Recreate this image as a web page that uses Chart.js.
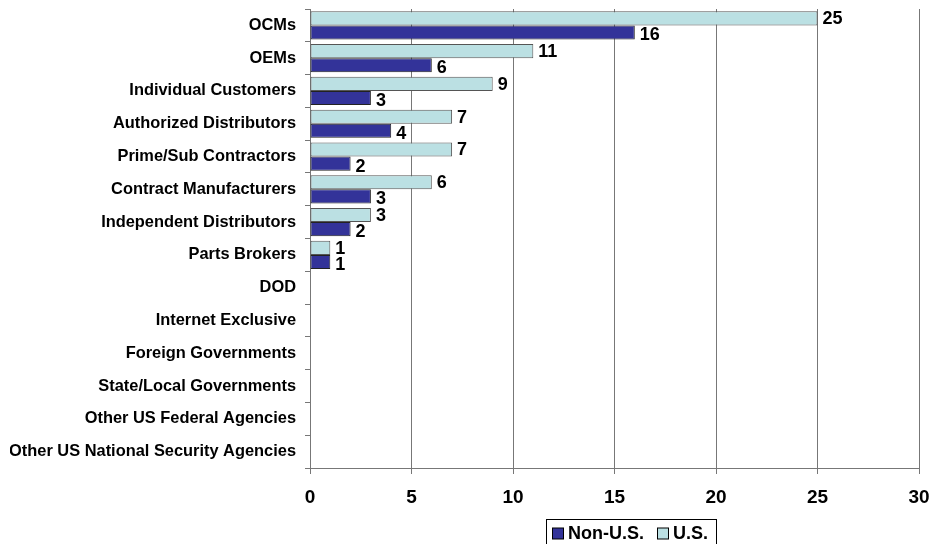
<!DOCTYPE html>
<html>
<head>
<meta charset="utf-8">
<script src="https://cdn.jsdelivr.net/npm/chart.js@4.4.1/dist/chart.umd.min.js"></script>
<style>
  html, body { margin: 0; padding: 0; background: #fff; }
  #wrap { width: 935px; height: 544px; }
</style>
</head>
<body>
<div id="wrap"><canvas id="myChart"></canvas></div>
<script>
const categories = [
  "OCMs",
  "OEMs",
  "Individual Customers",
  "Authorized Distributors",
  "Prime/Sub Contractors",
  "Contract Manufacturers",
  "Independent Distributors",
  "Parts Brokers",
  "DOD",
  "Internet Exclusive",
  "Foreign Governments",
  "State/Local Governments",
  "Other US Federal Agencies",
  "Other US National Security Agencies",
];
const usValues = [25, 11, 9, 7, 7, 6, 3, 1, null, null, null, null, null, null];
const nonUsValues = [16, 6, 3, 4, 2, 3, 2, 1, null, null, null, null, null, null];
const xTicks = [0, 5, 10, 15, 20, 25, 30];

const FONT = "'Liberation Sans', Arial, sans-serif";

// value labels at the end of each bar
const barLabels = {
  id: "barLabels",
  afterDatasetsDraw(chart) {
    const c = chart.ctx;
    c.save();
    c.font = "bold 18px " + FONT;
    c.fillStyle = "#000";
    c.textBaseline = "middle";
    c.textAlign = "left";
    chart.data.datasets.forEach((ds, i) => {
      const meta = chart.getDatasetMeta(i);
      meta.data.forEach((bar, j) => {
        const v = ds.data[j];
        if (!v) return;
        const dy = ds.label === "Non-U.S." ? 3 : 1;
        c.fillText(String(v), bar.x + 5, bar.y + dy);
      });
    });
    c.restore();
  },
};

// boxed legend below the axis
const boxLegend = {
  id: "boxLegend",
  afterDraw(chart) {
    const c = chart.ctx;
    const items = chart.data.datasets.slice().reverse();
    const spots = [552, 657];
    c.save();
    c.font = "bold 18px " + FONT;
    c.textBaseline = "middle";
    c.lineWidth = 1;
    c.strokeStyle = "#000";
    c.strokeRect(546.5, 519.5, 170, 34);
    const y = 533.5;
    const sq = 11;
    items.forEach((ds, k) => {
      const x = spots[k];
      c.fillStyle = ds.backgroundColor;
      c.fillRect(x + 0.5, y - sq / 2, sq, sq);
      c.strokeStyle = "#000";
      c.strokeRect(x + 0.5, y - sq / 2, sq, sq);
      c.fillStyle = "#000";
      c.fillText(ds.label, x + sq + 5, y + 1);
    });
    c.restore();
  },
};

const ctx = document.getElementById("myChart");
const chart = new Chart(ctx, {
  type: "bar",
  data: {
    labels: categories,
    datasets: [
      {
        label: "U.S.",
        data: usValues,
        backgroundColor: "#BBE0E3",
        borderColor: "#555555",
        borderWidth: 1,
        borderSkipped: false,
      },
      {
        label: "Non-U.S.",
        data: nonUsValues,
        backgroundColor: "#333399",
        borderColor: "#222222",
        borderWidth: 1,
        borderSkipped: false,
      },
    ],
  },
  options: {
    indexAxis: "y",
    responsive: true,
    maintainAspectRatio: false,
    animation: false,
    datasets: {
      bar: { categoryPercentage: 0.86, barPercentage: 1 },
    },
    layout: { padding: { top: 9, right: 16, bottom: 0, left: 10 } },
    plugins: {
      legend: { display: false },
      tooltip: { enabled: false },
    },
    scales: {
      x: {
        min: 0,
        max: 30,
        afterBuildTicks(scale) {
          scale.ticks = xTicks.map((v) => ({ value: v }));
        },
        afterFit(scale) {
          scale.height = 76;
          scale.paddingLeft = 0;
          scale.paddingRight = 0;
        },
        grid: {
          color: "#777777",
          tickLength: 6,
          drawOnChartArea: true,
        },
        border: { display: true, color: "#777777" },
        ticks: {
          color: "#000",
          padding: 12,
          maxRotation: 0,
          font: { family: FONT, size: 19, weight: "bold" },
        },
      },
      y: {
        afterFit(scale) {
          scale.width = 300;
          scale.paddingTop = 0;
          scale.paddingBottom = 0;
        },
        grid: {
          offset: true,
          drawOnChartArea: false,
          color: "#777777",
          tickLength: 5,
        },
        border: { display: true, color: "#777777" },
        ticks: {
          color: "#000",
          padding: 9,
          autoSkip: false,
          font: { family: FONT, size: 16.4, weight: "bold" },
        },
      },
    },
  },
  plugins: [barLabels, boxLegend],
});
</script>
</body>
</html>
